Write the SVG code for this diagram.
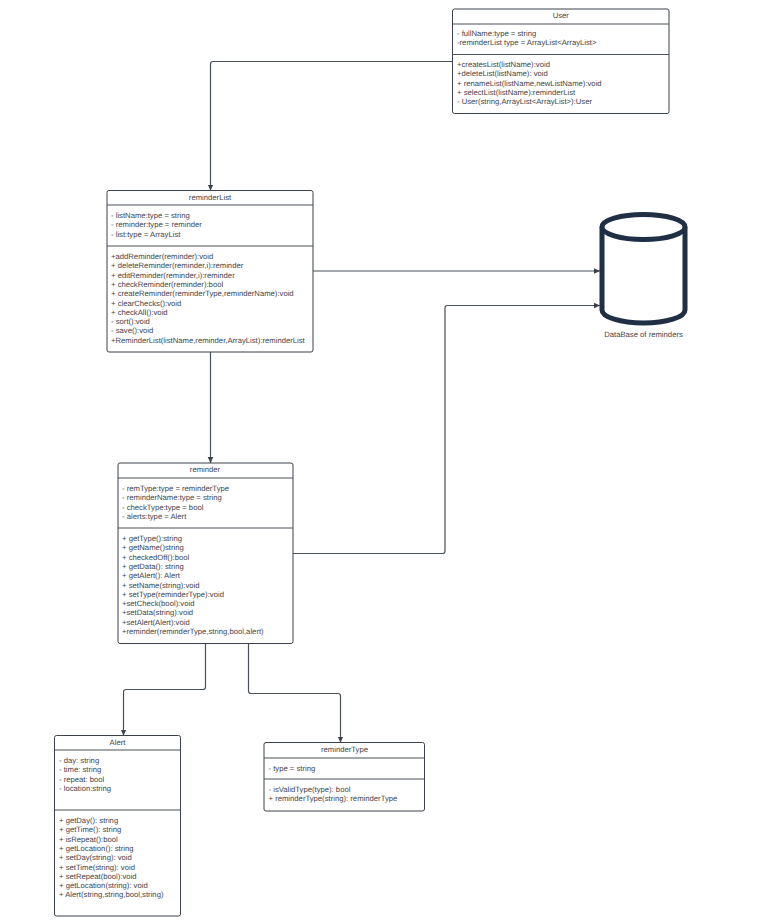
<svg xmlns="http://www.w3.org/2000/svg" width="761" height="923" viewBox="0 0 761 923">
<style>
.box{fill:#fff;stroke:#3a414a;stroke-width:1}
.sep{stroke:#4a5058;stroke-width:1;fill:none}
.con{fill:none;stroke:#4a5058;stroke-width:1.200}
text{font-family:"Liberation Sans",Arial,sans-serif;font-size:7.700px;fill:#3f444b;text-rendering:geometricPrecision}
.t{text-anchor:middle}
.db{fill:#fff;stroke:#1f3044;stroke-width:5}
</style>
<defs>
<marker id="arrow" markerUnits="userSpaceOnUse" markerWidth="8" markerHeight="8" refX="6" refY="4" orient="auto"><path d="M0 1.200L6 4L0 6.800Z" fill="#3a414a"/></marker>
</defs>
<rect width="761" height="923" fill="#fff"/>
<g id="connectors">
<path class="con" marker-end="url(#arrow)" d="M452.500 61.500H213Q210.500 61.500 210.500 64V190.500"/>
<path class="con" marker-end="url(#arrow)" d="M313 271H600"/>
<path class="con" marker-end="url(#arrow)" d="M293 553.500H442.500Q445 553.500 445 551V308Q445 305.500 447.500 305.500H600"/>
<path class="con" marker-end="url(#arrow)" d="M210.500 352V463"/>
<path class="con" marker-end="url(#arrow)" d="M205.500 643.500V687Q205.500 689.500 203 689.500H126Q123.500 689.500 123.500 692V735.500"/>
<path class="con" marker-end="url(#arrow)" d="M248.500 643.500V691Q248.500 693.500 251 693.500H338Q340.500 693.500 340.500 696V742.500"/>
</g>
<g id="user">
<rect class="box" x="452.500" y="9" width="216.500" height="104.500" rx="2"/>
<path class="sep" d="M452.500 24H669M452.500 54.500H669"/>
<text class="t" x="560.750" y="18">User</text>
<text x="457" y="36">- fullName:type = string</text>
<text x="457" y="45.300">-reminderList type = ArrayList&lt;ArrayList&gt;</text>
<text x="457" y="67">+createsList(listName):void</text>
<text x="457" y="76.300">+deleteList(listName): void</text>
<text x="457" y="85.600">+ renameList(listName,newListName):void</text>
<text x="457" y="94.900">+ selectList(listName):reminderList</text>
<text x="457" y="104.200">- User(string,ArrayList&lt;ArrayList&gt;):User</text>
</g>
<g id="reminderList">
<rect class="box" x="107" y="190.500" width="206" height="161.500" rx="2"/>
<path class="sep" d="M107 205H313M107 246H313"/>
<text class="t" x="210" y="200">reminderList</text>
<text x="111" y="218">- listName:type = string</text>
<text x="111" y="227.300">- reminder:type = reminder</text>
<text x="111" y="236.600">- list:type = ArrayList</text>
<text x="111" y="259">+addReminder(reminder):void</text>
<text x="111" y="268.300">+ deleteReminder(reminder,i):reminder</text>
<text x="111" y="277.600">+ editReminder(reminder,i):reminder</text>
<text x="111" y="286.900">+ checkReminder(reminder):bool</text>
<text x="111" y="296.200">+ createReminder(reminderType,reminderName):void</text>
<text x="111" y="305.500">+ clearChecks():void</text>
<text x="111" y="314.800">+ checkAll():void</text>
<text x="111" y="324.100">- sort():void</text>
<text x="111" y="333.400">- save():void</text>
<text x="111" y="342.700">+ReminderList(listName,reminder,ArrayList):reminderList</text>
</g>
<g id="database">
<path class="db" d="M602 227V310A41.500 13 0 0 0 685 310V227"/>
<ellipse class="db" cx="643.500" cy="227" rx="41.500" ry="12.500"/>
<text class="t" x="643.500" y="337">DataBase of reminders</text>
</g>
<g id="reminder">
<rect class="box" x="118" y="463" width="175" height="180.500" rx="2"/>
<path class="sep" d="M118 478H293M118 528H293"/>
<text class="t" x="205" y="472">reminder</text>
<text x="122" y="491">- remType:type = reminderType</text>
<text x="122" y="500.300">- reminderName:type = string</text>
<text x="122" y="509.600">- checkType:type = bool</text>
<text x="122" y="518.900">- alerts:type = Alert</text>
<text x="122" y="541">+ getType():string</text>
<text x="122" y="550.300">+ getName()string</text>
<text x="122" y="559.600">+ checkedOff():bool</text>
<text x="122" y="568.900">+ getData(): string</text>
<text x="122" y="578.200">+ getAlert(): Alert</text>
<text x="122" y="587.500">+ setName(string):void</text>
<text x="122" y="596.800">+ setType(reminderType):void</text>
<text x="122" y="606.100">+setCheck(bool):void</text>
<text x="122" y="615.400">+setData(string):void</text>
<text x="122" y="624.700">+setAlert(Alert):void</text>
<text x="122" y="634">+reminder(reminderType,string,bool,alert)</text>
</g>
<g id="alert">
<rect class="box" x="54.500" y="735.500" width="126" height="180.500" rx="2"/>
<path class="sep" d="M54.500 750H180.500M54.500 810H180.500"/>
<text class="t" x="117.500" y="745">Alert</text>
<text x="59" y="763">- day: string</text>
<text x="59" y="772.300">- time: string</text>
<text x="59" y="781.600">- repeat: bool</text>
<text x="59" y="790.900">- location:string</text>
<text x="59" y="823">+ getDay(): string</text>
<text x="59" y="832.300">+ getTime(): string</text>
<text x="59" y="841.600">+ isRepeat():bool</text>
<text x="59" y="850.900">+ getLocation(): string</text>
<text x="59" y="860.200">+ setDay(string): void</text>
<text x="59" y="869.500">+ setTime(string): void</text>
<text x="59" y="878.800">+ setRepeat(bool):void</text>
<text x="59" y="888.100">+ getLocation(string): void</text>
<text x="59" y="897.400">+ Alert(string,string,bool,string)</text>
</g>
<g id="reminderType">
<rect class="box" x="264" y="742.500" width="160.500" height="68.500" rx="2"/>
<path class="sep" d="M264 758H424.500M264 779H424.500"/>
<text class="t" x="344.500" y="752">reminderType</text>
<text x="268.500" y="771">- type = string</text>
<text x="268.500" y="792">- isValidType(type): bool</text>
<text x="268.500" y="801.300">+ reminderType(string): reminderType</text>
</g>
</svg>
